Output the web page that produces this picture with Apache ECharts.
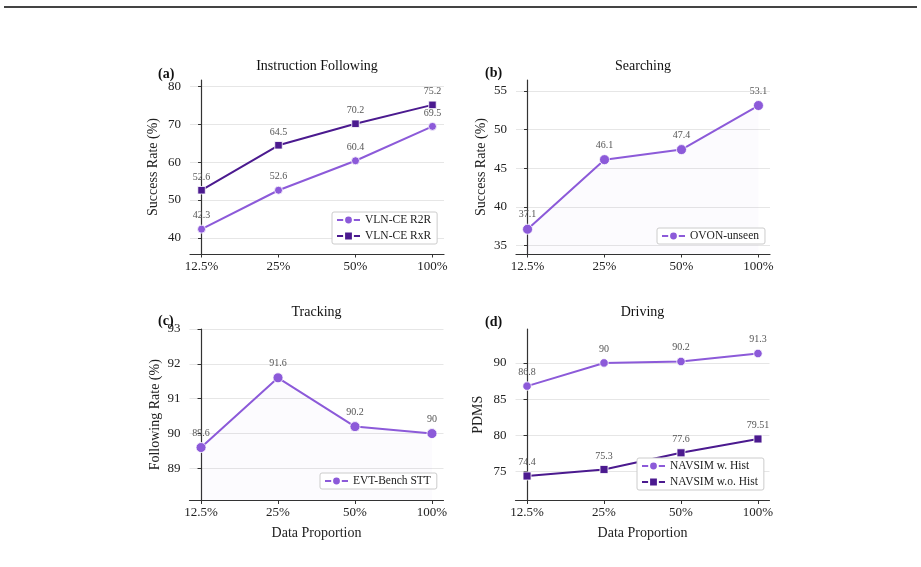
<!DOCTYPE html>
<html>
<head>
<meta charset="utf-8">
<script src="https://cdn.jsdelivr.net/npm/echarts@6/dist/echarts.min.js"></script>
<style>
  html, body { margin: 0; padding: 0; background: #fff; }
  #main { width: 921px; height: 567px; }
</style>
</head>
<body>
<div id="main"></div>
<script>
var chartDom = document.getElementById('main');
var myChart = echarts.init(chartDom);
var option;

// data
const proportions = ['12.5%', '25%', '50%', '100%'];

const vlnR2R = [42.3, 52.6, 60.4, 69.5];
const vlnRxR = [52.6, 64.5, 70.2, 75.2];
const ovonUnseen = [37.1, 46.1, 47.4, 53.1];
const evtBench = [89.6, 91.6, 90.2, 90];
const navsimHist = [86.8, 90, 90.2, 91.3];
const navsimNoHist = [74.4, 75.3, 77.6, 79.51];

const yTicksA = [40, 50, 60, 70, 80];
const yTicksB = [35, 40, 45, 50, 55];
const yTicksC = [89, 90, 91, 92, 93];
const yTicksD = [75, 80, 85, 90];

const LIGHT = '#8c5ad9';
const DARK = '#4b1a8f';
const FONT = '"Liberation Serif", "Times New Roman", serif';

const pts = (arr) => arr.map((v, i) => [i, v]);

const grids = [
  { left: 190, top: 80, width: 254, height: 174 },
  { left: 516, top: 80, width: 254, height: 174 },
  { left: 189.5, top: 329, width: 254, height: 171.5 },
  { left: 515.5, top: 329, width: 254, height: 171.5 },
];

function xAxis(idx, withName) {
  return {
    gridIndex: idx,
    type: 'value',
    min: -0.15,
    max: 3.15,
    name: withName ? 'Data Proportion' : '',
    nameLocation: 'middle',
    nameGap: 26,
    nameTextStyle: { fontFamily: FONT, fontSize: 14, color: '#222' },
    axisLine: { show: true, lineStyle: { color: '#333', width: 1.2 } },
    axisTick: { show: true, length: 3.5, customValues: [0, 1, 2, 3], lineStyle: { color: '#333' } },
    axisLabel: {
      customValues: [0, 1, 2, 3],
      formatter: (v) => proportions[Math.round(v)],
      fontFamily: FONT, fontSize: 13, color: '#222', margin: 6,
    },
    splitLine: { show: false },
  };
}

function yAxis(idx, name, min, max, ticks, gap) {
  return {
    gridIndex: idx,
    type: 'value',
    min: min,
    max: max,
    name: name,
    nameLocation: 'middle',
    nameGap: gap,
    nameTextStyle: { fontFamily: FONT, fontSize: 14, color: '#222' },
    axisLine: { show: true, lineStyle: { color: '#333', width: 1.2 } },
    axisTick: { show: true, length: 3.5, customValues: ticks, lineStyle: { color: '#333' } },
    axisLabel: { customValues: ticks, fontFamily: FONT, fontSize: 13, color: '#222', margin: 9 },
    splitLine: { show: true, lineStyle: { color: '#e6e6e6', width: 1 } },
  };
}

function line(name, idx, data, color, symbol, size, fill) {
  return {
    name: name,
    type: 'line',
    xAxisIndex: idx,
    yAxisIndex: idx,
    data: pts(data),
    symbol: symbol,
    symbolSize: size,
    lineStyle: { color: color, width: 2 },
    itemStyle: { color: color, borderColor: '#fff', borderWidth: 0.8 },
    areaStyle: fill ? { color: 'rgba(140, 90, 217, 0.035)', origin: 'start' } : undefined,
    label: {
      show: true,
      position: 'top',
      distance: 4,
      formatter: (p) => String(p.value[1]),
      fontFamily: FONT,
      fontSize: 10,
      color: '#555',
    },
    z: 3,
  };
}

function legend(names, left, top) {
  return {
    data: names,
    left: left,
    top: top,
    orient: 'vertical',
    itemWidth: 23,
    itemHeight: 11,
    itemGap: 4,
    padding: [2, 6, 2, 4],
    backgroundColor: '#fff',
    borderColor: '#cccccc',
    borderWidth: 1,
    borderRadius: 2,
    lineStyle: { width: 2 },
    textStyle: { fontFamily: FONT, fontSize: 11.5, color: '#222' },
  };
}

function title(text, x, y, bold) {
  return {
    text: text,
    left: x,
    top: y,
    textAlign: bold ? 'left' : 'center',
    textStyle: { fontFamily: FONT, fontSize: 14, fontWeight: bold ? 'bold' : 'normal', color: '#111' },
    padding: 0,
  };
}

option = {
  animation: false,
  backgroundColor: '#fff',
  title: [
    title('Instruction Following', 317, 59, false),
    title('Searching', 643, 59, false),
    title('Tracking', 316.5, 305, false),
    title('Driving', 642.5, 305, false),
    title('(a)', 158, 67, true),
    title('(b)', 485, 66, true),
    title('(c)', 158, 314, true),
    title('(d)', 485, 315, true),
  ],
  grid: grids,
  xAxis: [xAxis(0, false), xAxis(1, false), xAxis(2, true), xAxis(3, true)],
  yAxis: [
    yAxis(0, 'Success Rate (%)', 35.72, 81.78, yTicksA, 30),
    yAxis(1, 'Success Rate (%)', 33.9, 56.4, yTicksB, 28),
    yAxis(2, 'Following Rate (%)', 88.08, 93.0, yTicksC, 27),
    yAxis(3, 'PDMS', 71.02, 94.68, yTicksD, 30),
  ],
  legend: [
    legend(['VLN-CE R2R', 'VLN-CE RxR'], 332, 212),
    legend(['OVON-unseen'], 657, 228),
    legend(['EVT-Bench STT'], 320, 473),
    legend(['NAVSIM w. Hist', 'NAVSIM w.o. Hist'], 637, 458),
  ],
  series: [
    line('VLN-CE R2R', 0, vlnR2R, LIGHT, 'circle', 8, false),
    line('VLN-CE RxR', 0, vlnRxR, DARK, 'rect', 7.5, false),
    line('OVON-unseen', 1, ovonUnseen, LIGHT, 'circle', 10, true),
    line('EVT-Bench STT', 2, evtBench, LIGHT, 'circle', 10, true),
    line('NAVSIM w. Hist', 3, navsimHist, LIGHT, 'circle', 8.5, false),
    line('NAVSIM w.o. Hist', 3, navsimNoHist, DARK, 'rect', 8, false),
  ],
  graphic: [
    {
      type: 'line',
      shape: { x1: 4, y1: 7, x2: 917, y2: 7 },
      style: { stroke: '#444', lineWidth: 2 },
    },
  ],
};

option && myChart.setOption(option);

window.onresize = function () {
  myChart.resize();
};
</script>
</body>
</html>
